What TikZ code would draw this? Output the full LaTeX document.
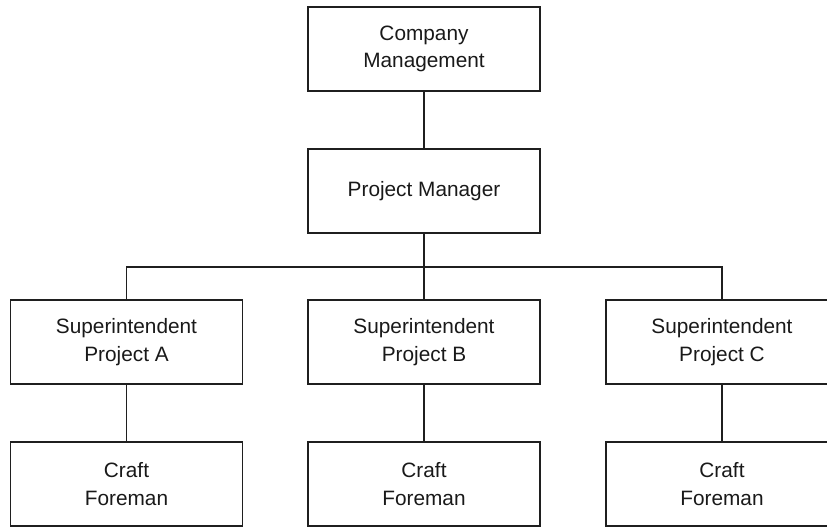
\documentclass[tikz,border=0pt]{standalone}
\usepackage{fontspec}
\setmainfont{Liberation Sans}
\begin{document}
\begin{tikzpicture}[x=1bp,y=-1bp,
  ink/.style={draw=black!88},
  orgbox/.style={ink, rectangle, line width=1.8bp, minimum width=232bp,
    minimum height=84bp, inner sep=0pt, align=center, text=black!90,
    font=\fontsize{20.8bp}{27.7bp}\selectfont},
  link/.style={ink, line width=1.8bp}]
  \useasboundingbox (0,0) rectangle (827,527);
  \clip (0,0) rectangle (827,527);

  % top of the chart
  \node[orgbox] (cm) at (424,49) {Company\\Management};
  \node[orgbox] (pm) at (424,191) {Project Manager};

  % superintendents
  \node[orgbox] (supA) at (126.5,342) {Superintendent\\Project A};
  \node[orgbox] (supB) at (424,342) {Superintendent\\Project B};
  \node[orgbox] (supC) at (722,342) {Superintendent\\Project C};

  % foremen
  \node[orgbox] (cfA) at (126.5,484) {Craft\\Foreman};
  \node[orgbox] (cfB) at (424,484) {Craft\\Foreman};
  \node[orgbox] (cfC) at (722,484) {Craft\\Foreman};

  % reporting lines
  \coordinate (bus) at (424,266.7);
  \draw[link] (cm.south) -- (pm.north);
  \draw[link] (pm.south) -- (bus);
  \draw[link] (supA.north) |- (bus) -| (supC.north);
  \draw[link] (bus) -- (supB.north);
  \draw[link] (supA.south) -- (cfA.north);
  \draw[link] (supB.south) -- (cfB.north);
  \draw[link] (supC.south) -- (cfC.north);
\end{tikzpicture}
\end{document}
